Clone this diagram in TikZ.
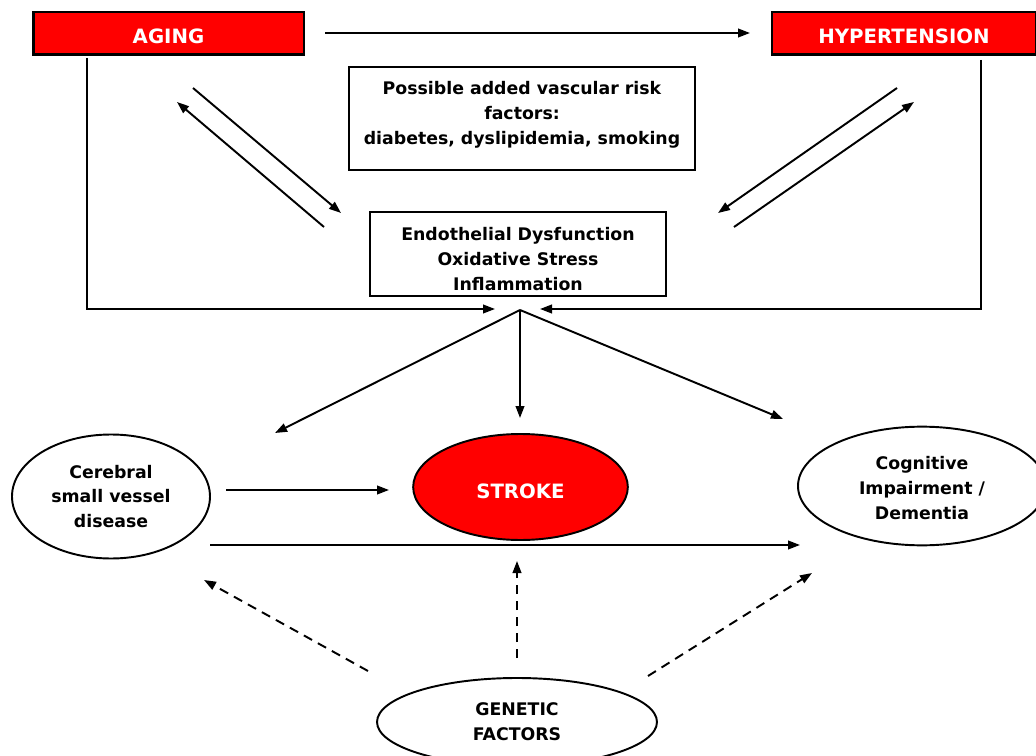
\documentclass[tikz,border=0pt]{standalone}
\usepackage{fontspec}
\setmainfont{DejaVu Sans}
\usetikzlibrary{shapes.geometric,arrows.meta}
\begin{document}
\begin{tikzpicture}[x=0.75pt,y=-0.75pt,
  every node/.style={font=\bfseries\fontsize{13}{18.6}\selectfont, align=center, inner sep=0pt},
  bigtext/.style={font=\bfseries\fontsize{14.8}{18.6}\selectfont},
  redbox/.style={rectangle, draw=black, line width=2pt, fill=red},
  plainbox/.style={rectangle, draw=black, line width=1.7pt},
  oval/.style={ellipse, draw=black, line width=1.45pt},
  conn/.style={line width=1.45pt, -{Triangle[length=9pt,width=6.5pt]}},
  dconn/.style={conn, dash pattern=on 7pt off 5pt}]
\useasboundingbox (0,0) rectangle (1036,756);
\clip (0,0) rectangle (1036,756);
% boxes
\node[redbox, minimum width=203pt, minimum height=32pt] (aging) at (168.5,33.5) {};
\node[bigtext, text=white] (agingtxt) at (168.5,36) {AGING};
\node[redbox, minimum width=198pt, minimum height=32pt] (hyper) at (904,33.5) {};
\node[bigtext, text=white] (hypertxt) at (904,36) {HYPERTENSION};
\node[plainbox, minimum width=259.5pt, minimum height=77pt] (risk) at (522,118.5) {};
\node (risktxt) at (522,115)
  {Possible added vascular risk\\factors:\\diabetes, dyslipidemia, smoking};
\node[plainbox, minimum width=222pt, minimum height=63pt] (endo) at (518,254) {};
\node (endotxt) at (518,259)
  {Endothelial Dysfunction\\Oxidative Stress\\Inflammation};
% ellipses
\node[oval, minimum width=148.5pt, minimum height=93pt] (csvd) at (111,496.5) {};
\node (csvdtxt) at (111,496.5) {Cerebral\\small vessel\\disease};
\node[oval, fill=red, minimum width=161pt, minimum height=79.5pt] (stroke) at (520.5,487) {};
\node[bigtext, text=white] (stroketxt) at (520.5,491) {STROKE};
\node[oval, minimum width=186pt, minimum height=89pt] (cog) at (922,486) {};
\node (cogtxt) at (922,488) {Cognitive\\Impairment /\\Dementia};
\node[oval, minimum width=210pt, minimum height=66pt] (gen) at (517,722) {};
\node (gentxt) at (517,722) {GENETIC\\FACTORS};
% coordinates
\coordinate (ah1) at (325,33); \coordinate (ah2) at (750,33);
\coordinate (lt) at (87,58); \coordinate (lb) at (87,309); \coordinate (le) at (495,309);
\coordinate (rt) at (981,60); \coordinate (rb) at (981,309); \coordinate (re) at (540,309);
\coordinate (j) at (520,310);
\coordinate (d1) at (275,433); \coordinate (d2) at (520,418); \coordinate (d3) at (783,419);
\coordinate (la1) at (193,88); \coordinate (la2) at (341,213);
\coordinate (lb1) at (324,227); \coordinate (lb2) at (177,102);
\coordinate (ra1) at (897,88); \coordinate (ra2) at (718,213);
\coordinate (rb1) at (734,227); \coordinate (rb2) at (914,102);
\coordinate (c1) at (226,490); \coordinate (c2) at (389,490);
\coordinate (h1) at (210,545); \coordinate (h2) at (800,545);
\coordinate (g1) at (368,671); \coordinate (g2) at (204,580);
\coordinate (g3) at (517,658); \coordinate (g4) at (517,561);
\coordinate (g5) at (648,676); \coordinate (g6) at (812,573);
% connectors
\draw[conn] (ah1) -- (ah2);
\draw[conn] (lt) -- (lb) -- (le);
\draw[conn] (rt) -- (rb) -- (re);
\draw[conn] (j) -- (d1);
\draw[conn] (j) -- (d2);
\draw[conn] (j) -- (d3);
\draw[conn] (la1) -- (la2);
\draw[conn] (lb1) -- (lb2);
\draw[conn] (ra1) -- (ra2);
\draw[conn] (rb1) -- (rb2);
\draw[conn] (c1) -- (c2);
\draw[conn] (h1) -- (h2);
\draw[dconn] (g1) -- (g2);
\draw[dconn] (g3) -- (g4);
\draw[dconn] (g5) -- (g6);
\end{tikzpicture}
\end{document}
